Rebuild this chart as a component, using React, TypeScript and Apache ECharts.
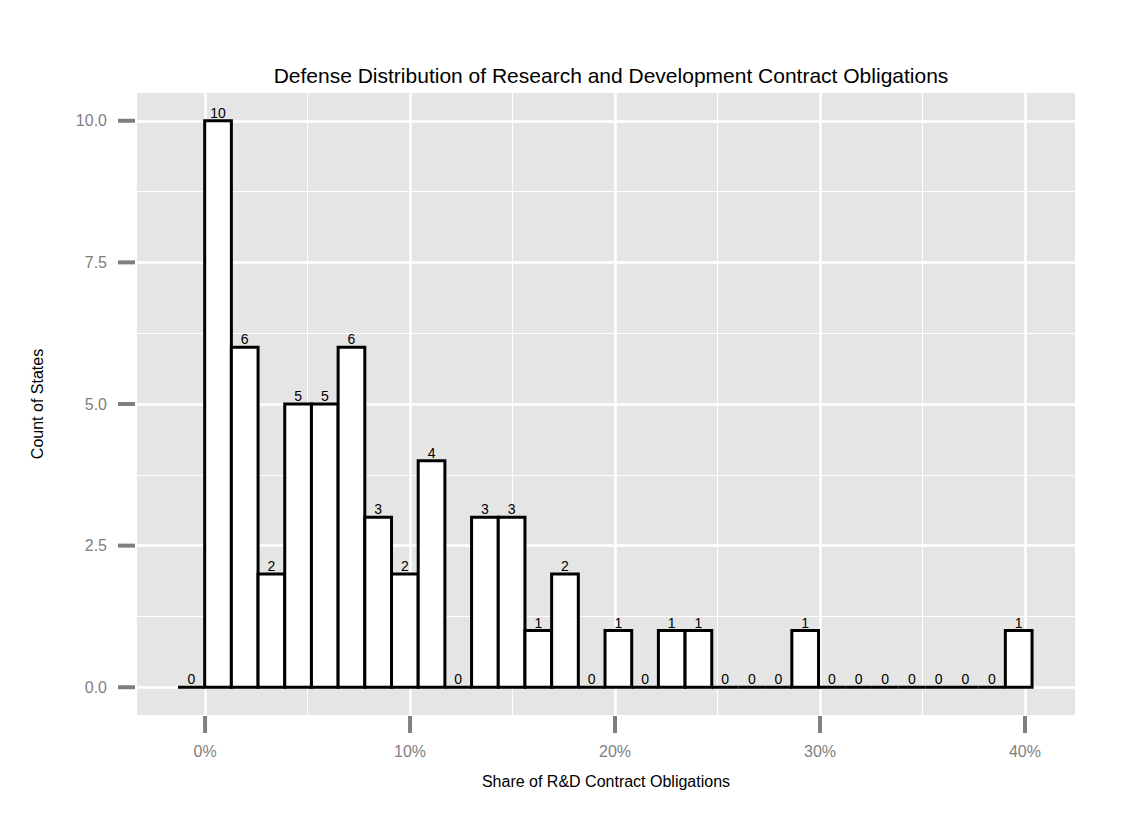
import { useEffect, useRef } from 'react'
import * as echarts from 'echarts'

// histogram bins (start at -1.3%, width 1.3%)
const binStart = -1.32
const binWidth = 1.302
const counts = [0, 10, 6, 2, 5, 5, 6, 3, 2, 4, 0, 3, 3, 1, 2, 0, 1, 0, 1, 1, 0, 0, 0, 1, 0, 0, 0, 0, 0, 0, 0, 1]
const xMajor = [0, 10, 20, 30, 40]
const xMinor = [5, 15, 25, 35]
const yMajor = [0, 2.5, 5, 7.5, 10]
const yMinor = [1.25, 3.75, 6.25, 8.75]
const font = 'Arial, Liberation Sans'

export default function App() {
    const chartRef = useRef<HTMLDivElement>(null)

    useEffect(() => {
        if (!chartRef.current) return
        const chart = echarts.init(chartRef.current, null, { renderer: 'svg' })
        const data = counts.map((c, i) => [binStart + i * binWidth, binStart + (i + 1) * binWidth, c])
        const gridLines = (vals: number[], axis: 'xAxis' | 'yAxis', w: number) =>
            vals.map(v => ({ [axis]: v, lineStyle: { color: '#ffffff', width: w, type: 'solid' } }))

        chart.setOption({
            animation: false,
            backgroundColor: '#ffffff',
            title: {
                text: 'Defense Distribution of Research and Development Contract Obligations',
                left: 598, top: 52, textAlign: 'center',
                textStyle: { fontFamily: font, fontSize: 21, fontWeight: 'normal', color: '#000' }
            },
            grid: { left: 129, right: 42, top: 85, bottom: 102, show: true, backgroundColor: '#e5e5e5', borderWidth: 0 },
            xAxis: {
                type: 'value', min: -3.32, max: 42.44,
                name: 'Share of R&D Contract Obligations', nameLocation: 'middle', nameGap: 58,
                nameTextStyle: { fontFamily: font, fontSize: 16, color: '#000' },
                axisLine: { show: false },
                splitLine: { show: false },
                axisTick: { show: false },
                axisLabel: { customValues: xMajor, margin: 28, formatter: (v: number) => `${v}%`, color: '#7f7f7f', fontSize: 16, fontFamily: font }
            },
            yAxis: {
                type: 'value', min: -0.49, max: 10.49,
                name: 'Count of States', nameLocation: 'middle', nameGap: 92,
                nameTextStyle: { fontFamily: font, fontSize: 16, color: '#000' },
                axisLine: { show: false },
                splitLine: { show: false },
                axisTick: { show: false },
                axisLabel: { customValues: yMajor, margin: 30, formatter: (v: number) => v.toFixed(1), color: '#7f7f7f', fontSize: 16, fontFamily: font }
            },
            series: [
                {
                    type: 'scatter', data: [], silent: true, z: 1,
                    markLine: {
                        silent: true, symbol: 'none', label: { show: false }, animation: false,
                        data: [
                            ...gridLines(xMinor, 'xAxis', 1),
                            ...gridLines(yMinor, 'yAxis', 1),
                            ...gridLines(xMajor, 'xAxis', 2.5),
                            ...gridLines(yMajor, 'yAxis', 2.5)
                        ]
                    }
                },
                {
                    type: 'custom', z: 5, data,
                    renderItem: (params: any, api: any) => {
                        const p0 = api.coord([api.value(0), api.value(2)])
                        const p1 = api.coord([api.value(1), 0])
                        return {
                            type: 'group',
                            children: [
                                {
                                    type: 'rect',
                                    shape: { x: p0[0], y: p0[1], width: p1[0] - p0[0], height: p1[1] - p0[1] },
                                    style: { fill: '#ffffff', stroke: '#000000', lineWidth: 3 }
                                },
                                {
                                    type: 'text',
                                    x: (p0[0] + p1[0]) / 2, y: p0[1] - 1,
                                    style: {
                                        text: String(api.value(2)), textAlign: 'center', textVerticalAlign: 'bottom',
                                        fontSize: 14, fontFamily: font, fill: '#000'
                                    }
                                }
                            ]
                        }
                    }
                }
            ]
        })

        // 刻度线：画在面板外侧，位置由坐标轴换算
        const tickStyle = { stroke: '#7f7f7f', lineWidth: 4 }
        const ticks: any[] = []
        xMajor.forEach(v => {
            const p = chart.convertToPixel({ gridIndex: 0 }, [v, -0.49]) as number[]
            ticks.push({ type: 'line', shape: { x1: p[0], y1: p[1] + 1, x2: p[0], y2: p[1] + 18 }, style: tickStyle })
        })
        yMajor.forEach(v => {
            const p = chart.convertToPixel({ gridIndex: 0 }, [-3.32, v]) as number[]
            ticks.push({ type: 'line', shape: { x1: p[0] - 19, y1: p[1], x2: p[0] - 2, y2: p[1] }, style: tickStyle })
        })
        chart.setOption({ graphic: ticks })

        return () => chart.dispose()
    }, [])

    return <div ref={chartRef} style={{ width: 1109, height: 809 }} />
}
